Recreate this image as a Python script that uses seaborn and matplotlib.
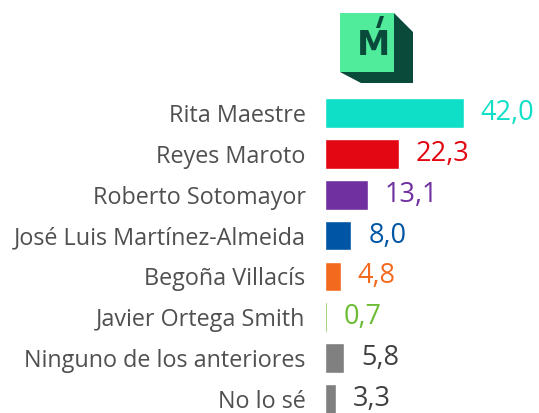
import matplotlib
matplotlib.use('Agg')
import matplotlib.pyplot as plt
import seaborn as sns
import pandas as pd
from matplotlib.patches import Polygon, Rectangle

candidatos = ['Rita Maestre', 'Reyes Maroto', 'Roberto Sotomayor',
              'José Luis Martínez-Almeida', 'Begoña Villacís',
              'Javier Ortega Smith', 'Ninguno de los anteriores', 'No lo sé']
valores = [42.0, 22.3, 13.1, 8.0, 4.8, 0.7, 5.8, 3.3]
colores = ['#10DFC8', '#E30613', '#7030A0', '#0055A4', '#F36A1F', '#6CBD35', '#808080', '#808080']
colores_txt = ['#10DFC8', '#E30613', '#7030A0', '#0055A4', '#F36A1F', '#6CBD35', '#404040', '#404040']

df = pd.DataFrame({'cand': candidatos, 'val': valores})

sns.set_style('white')
plt.rcParams['font.family'] = ['Open Sans', 'DejaVu Sans']

W, H = 539, 413
fig = plt.figure(figsize=(W / 100, H / 100), dpi=100)
ax = fig.add_axes([325 / W, 0, 1 - 325 / W, (413 - 92.6) / H])

sns.barplot(data=df, x='val', y='cand', hue='cand', palette=colores, legend=False,
            width=0.73, saturation=1, ax=ax)
ax.set_xlim(0, 214 / 3.31)
ax.set_ylim(7 + 14 / 40.86, -0.5)
ax.set_xlabel('')
ax.set_ylabel('')
ax.set_xticks([])
sns.despine(ax=ax, left=True, bottom=True)
ax.tick_params(axis='y', length=0, pad=14, labelsize=16.8, labelcolor='#505050')

for i, v in enumerate(valores):
    ax.annotate(f'{v:.1f}'.replace('.', ','), (v, i), xytext=(12, 0), textcoords='offset points',
                va='center', ha='left', fontsize=19.5, color=colores_txt[i])

# logo
tr = fig.transFigure
def px(x, y):
    return (x / W, 1 - y / H)
sombra = Polygon([px(394, 13), px(413, 32), px(413, 83), px(361, 83), px(340, 72), px(394, 72)],
                 closed=True, transform=tr, facecolor='#0A4A3A', edgecolor='none')
fig.patches.append(sombra)
cuadro = Rectangle(px(340, 72), 54 / W, 59 / H, transform=tr, facecolor='#50EC9C', edgecolor='none')
fig.patches.append(cuadro)
fig.text(373 / W, 1 - 55 / H, 'M', ha='center', va='baseline', fontsize=24, fontweight='bold',
         color='#0A4A3A', family='DejaVu Sans')
acento = Polygon([px(380, 16), px(384, 16), px(380, 28), px(376, 28)], closed=True,
                 transform=tr, facecolor='#0A4A3A', edgecolor='none')
fig.patches.append(acento)

fig.savefig('out.png', dpi=100)
